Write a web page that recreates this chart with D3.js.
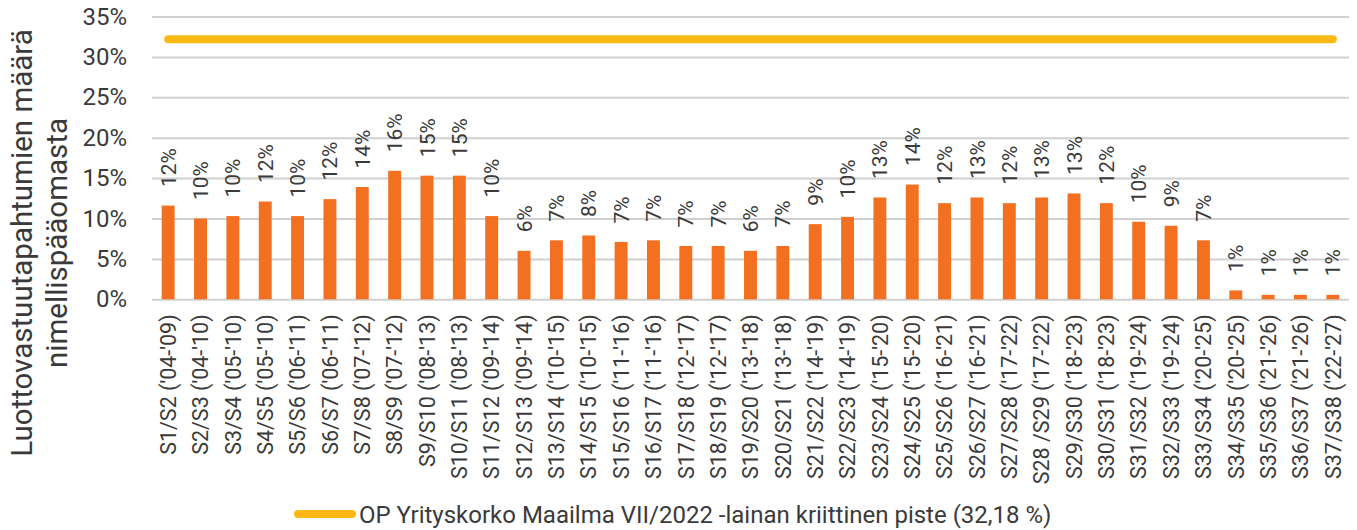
<!DOCTYPE html>
<html>
<head>
<meta charset="utf-8">
<script src="https://cdn.jsdelivr.net/npm/d3@7"></script>
<style>
  html, body { margin: 0; padding: 0; background: #fff; }
  svg text { font-family: Roboto, "Noto Sans", sans-serif; fill: #3a3a3a; }
</style>
</head>
<body>
<div id="chart"></div>
<script>
// categories (sarjat) on the x axis
const categories = [
  "S1/S2 ('04-'09)", "S2/S3 ('04-'10)", "S3/S4 ('05-'10)", "S4/S5 ('05-'10)",
  "S5/S6 ('06-'11)", "S6/S7 ('06-'11)", "S7/S8 ('07-'12)", "S8/S9 ('07-'12)",
  "S9/S10 ('08-'13)", "S10/S11 ('08-'13)", "S11/S12 ('09-'14)", "S12/S13 ('09-'14)",
  "S13/S14 ('10-'15)", "S14/S15 ('10-'15)", "S15/S16 ('11-'16)", "S16/S17 ('11-'16)",
  "S17/S18 ('12-'17)", "S18/S19 ('12-'17)", "S19/S20 ('13-'18)", "S20/S21 ('13-'18)",
  "S21/S22 ('14-'19)", "S22/S23 ('14-'19)", "S23/S24 ('15-'20)", "S24/S25 ('15-'20)",
  "S25/S26 ('16-'21)", "S26/S27 ('16-'21)", "S27/S28 ('17-'22)", "S28 /S29 ('17-'22)",
  "S29/S30 ('18-'23)", "S30/S31 ('18-'23)", "S31/S32 ('19-'24)", "S32/S33 ('19-'24)",
  "S33/S34 ('20-'25)", "S34/S35 ('20-'25)", "S35/S36 ('21-'26)", "S36/S37 ('21-'26)",
  "S37/S38 ('22-'27)"
]

// credit event share of notional, %
const values = [
  11.6, 10.0, 10.3, 12.1, 10.3, 12.4, 13.9, 15.9, 15.3, 15.3,
  10.3, 6.0, 7.3, 7.9, 7.1, 7.3, 6.6, 6.6, 6.0, 6.6,
  9.3, 10.2, 12.6, 14.2, 11.9, 12.6, 11.9, 12.6, 13.1, 11.9,
  9.6, 9.1, 7.3, 1.1, 0.55, 0.55, 0.55
]

// critical point of the loan, %
const criticalPoint = 32.18
const legendLabel = 'OP Yrityskorko Maailma VII/2022 -lainan kriittinen piste (32,18 %)'

const yTicks = [0, 5, 10, 15, 20, 25, 30, 35]
const yTitle = ['Luottovastuutapahtumien määrä', 'nimellispääomasta']

const width = 1357
const height = 530
const margin = { top: 16.5, right: 8, bottom: 230.7, left: 152 }

const barColor = '#f37021'
const lineColor = '#fdb913'

const svg = d3.select('#chart').append('svg')
  .attr('width', width)
  .attr('height', height)

const x = d3.scaleBand()
  .domain(categories)
  .range([margin.left, width - margin.right])
  .paddingInner(0.6)
  .paddingOuter(0.3)

const y = d3.scaleLinear()
  .domain([0, 35])
  .range([height - margin.bottom, margin.top])

// gridlines + y tick labels
svg.append('g')
  .attr('class', 'axis y')
  .attr('transform', 'translate(' + margin.left + ',0)')
  .call(d3.axisLeft(y)
    .tickValues(yTicks)
    .tickFormat(d => d + '%')
    .tickSize(-(width - margin.left - margin.right))
    .tickPadding(25)
  )
  .call(g => g.select('.domain').remove())
  .call(g => g.selectAll('.tick line')
    .attr('stroke', '#d0d0d0')
    .attr('stroke-width', 2)
  )
  .call(g => g.selectAll('.tick text')
    .style('font-size', '24px')
    .attr('fill', '#3a3a3a')
  )

// x labels, rotated
svg.append('g')
  .attr('class', 'axis x')
  .attr('transform', 'translate(0,' + (height - margin.bottom) + ')')
  .call(d3.axisBottom(x).tickSize(0).tickPadding(0))
  .call(g => g.select('.domain').remove())
  .call(g => g.selectAll('.tick text')
    .style('font-size', '21.5px')
    .attr('fill', '#3a3a3a')
    .attr('text-anchor', 'end')
    .attr('transform', 'translate(0,15) rotate(-90)')
    .attr('x', 0)
    .attr('y', 0)
    .attr('dy', '0.36em')
  )

// bars
svg.append('g')
  .selectAll('rect')
  .data(values)
  .join('rect')
  .attr('x', (d, i) => x(categories[i]))
  .attr('width', x.bandwidth())
  .attr('y', d => y(d))
  .attr('height', d => y(0) - y(d))
  .attr('fill', barColor)

// bar value labels
svg.append('g')
  .selectAll('text')
  .data(values)
  .join('text')
  .attr('transform', (d, i) =>
    'translate(' + (x(categories[i]) + x.bandwidth() / 2) + ',' + (y(d) - 18.5) + ') rotate(-90)')
  .attr('dy', '0.36em')
  .style('font-size', '21px')
  .text(d => Math.round(d) + '%')

// critical point line
const xFirst = x(categories[0]) + x.bandwidth() / 2
const xLast = x(categories[categories.length - 1]) + x.bandwidth() / 2
svg.append('line')
  .attr('x1', xFirst)
  .attr('x2', xLast)
  .attr('y1', y(criticalPoint))
  .attr('y2', y(criticalPoint))
  .attr('stroke', lineColor)
  .attr('stroke-width', 8)
  .attr('stroke-linecap', 'round')

// y axis title (two lines)
svg.append('text')
  .attr('transform', 'translate(32,243) rotate(-90)')
  .attr('text-anchor', 'middle')
  .style('font-size', '29.5px')
  .selectAll('tspan')
  .data(yTitle)
  .join('tspan')
  .attr('x', 0)
  .attr('dy', (d, i) => i === 0 ? 0 : '1.2em')
  .text(d => d)

// legend
const legend = svg.append('g')
  .attr('transform', 'translate(298,514)')
legend.append('line')
  .attr('x1', 0)
  .attr('x2', 54)
  .attr('stroke', lineColor)
  .attr('stroke-width', 8)
  .attr('stroke-linecap', 'round')
legend.append('text')
  .attr('x', 61)
  .attr('y', 8.5)
  .style('font-size', '24px')
  .text(legendLabel)
</script>
</body>
</html>
